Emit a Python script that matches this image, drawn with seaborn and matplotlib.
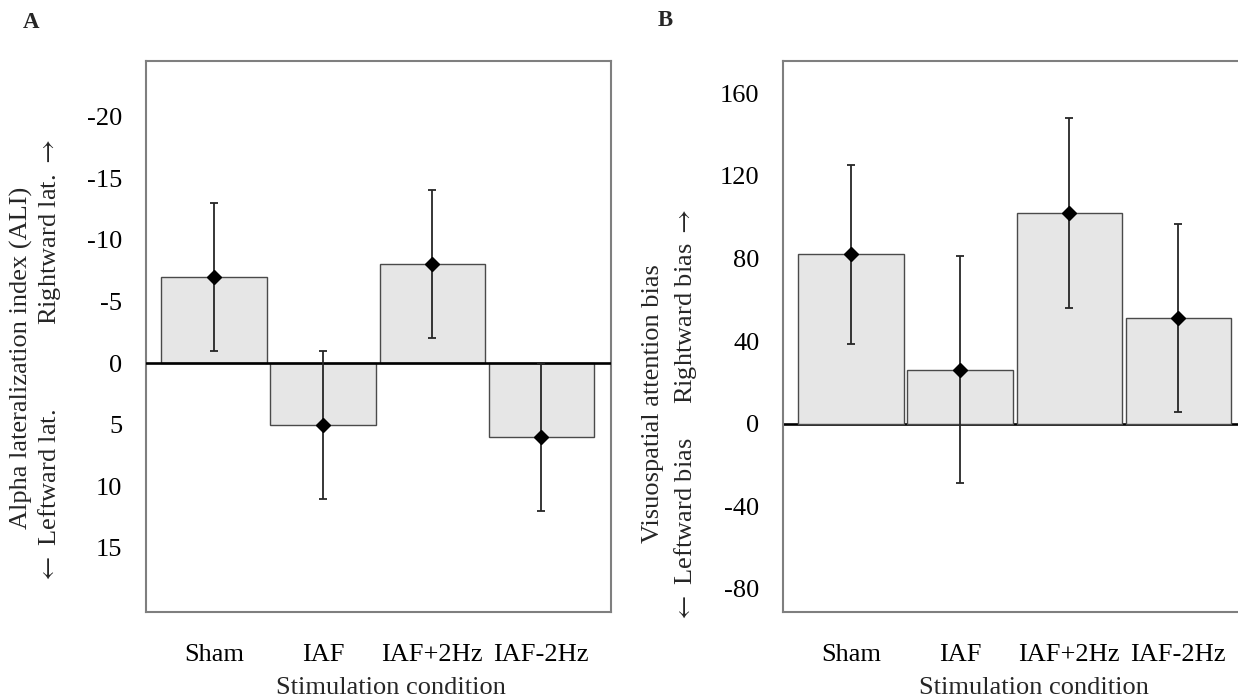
import matplotlib
matplotlib.use("Agg")
import matplotlib.pyplot as plt
import seaborn as sns
import pandas as pd

# Stimulation conditions and summary statistics (mean ± error)
conditions = ["Sham", "IAF", "IAF+2Hz", "IAF-2Hz"]
ali_mean = [-7, 5, -8, 6]
ali_err = [6, 6, 6, 6]
bias_mean = [82, 26, 102, 51]
bias_err = [43.5, 55, 46, 45.5]

ali_ticks = [-20, -15, -10, -5, 0, 5, 10, 15]
bias_ticks = [-80, -40, 0, 40, 80, 120, 160]

sns.set_style("white")
plt.rcParams["font.family"] = ["Liberation Serif", "DejaVu Serif"]
plt.rcParams["axes.unicode_minus"] = False
plt.rcParams["mathtext.fontset"] = "stix"

W, H = 1238, 700
fig = plt.figure(figsize=(W / 100, H / 100), dpi=100)


def px_axes(x0, y0, x1, y1):
    return fig.add_axes([x0 / W, 1 - y1 / H, (x1 - x0) / W, (y1 - y0) / H])


def px_text(x, y, s, **kw):
    fig.text(x / W, 1 - y / H, s, ha="center", va="center", **kw)


FS = 19
SPINE = "#7f7f7f"
BAR_FILL = "#e6e6e6"
BAR_EDGE = "#4a4a4a"
RARROW = r"$\rightarrow$"
LARROW = r"$\leftarrow$"


def panel(ax, means, errs, zero_on_top):
    df = pd.DataFrame({"condition": conditions, "value": means})
    sns.barplot(data=df, x="condition", y="value", ax=ax, color=BAR_FILL,
                saturation=1, edgecolor=BAR_EDGE, linewidth=1.0,
                width=0.965, errorbar=None, zorder=2)
    ax.axhline(0, color="black", lw=1.9, zorder=3 if zero_on_top else 1)
    x = list(range(len(conditions)))
    ax.errorbar(x, means, yerr=errs, fmt="none", ecolor="#262626",
                elinewidth=1.3, capsize=3.2, capthick=1.3, zorder=4)
    ax.plot(x, means, linestyle="none", marker="D", markersize=6.8,
            color="black", zorder=5)
    ax.set_xlabel("")
    ax.set_ylabel("")
    ax.set_xlim(-0.624, 3.64)
    for s in ax.spines.values():
        s.set_visible(True)
        s.set_color(SPINE)
        s.set_linewidth(1.5)
    ax.tick_params(axis="both", direction="in", length=6, width=1.0,
                   color="#333333", labelsize=FS, labelcolor="black")
    ax.tick_params(axis="y", pad=17)
    ax.tick_params(axis="x", pad=23)
    ax.grid(False)


# Panel A: alpha lateralization index (inverted axis)
axA = px_axes(146, 61, 611, 612)
panel(axA, ali_mean, ali_err, zero_on_top=True)
axA.set_yticks(ali_ticks)
axA.set_yticklabels([str(t) for t in ali_ticks])
axA.set_ylim(20.2, -24.5)

# Panel B: visuospatial attention bias
axB = px_axes(783, 61, 1248, 612)
panel(axB, bias_mean, bias_err, zero_on_top=False)
axB.set_yticks(bias_ticks)
axB.set_yticklabels([str(t) for t in bias_ticks])
axB.set_ylim(-91.3, 175.7)

# Panel letters
px_text(31, 22, "A", fontsize=16.5, fontweight="bold")
px_text(665, 20, "B", fontsize=16.5, fontweight="bold")

# Axis titles
px_text(391, 688, "Stimulation condition", fontsize=FS)
px_text(1034, 688, "Stimulation condition", fontsize=FS)

px_text(21, 358, "Alpha lateralization index (ALI)", fontsize=FS, rotation=90)
px_text(50, 232, "Rightward lat. " + RARROW, fontsize=FS, rotation=90)
px_text(50, 496, LARROW + " Leftward lat.", fontsize=FS, rotation=90)

px_text(653, 404, "Visuospatial attention bias", fontsize=FS, rotation=90)
px_text(686, 306, "Rightward bias " + RARROW, fontsize=FS, rotation=90)
px_text(686, 530, LARROW + " Leftward bias", fontsize=FS, rotation=90)

fig.savefig("out.png", dpi=100)
